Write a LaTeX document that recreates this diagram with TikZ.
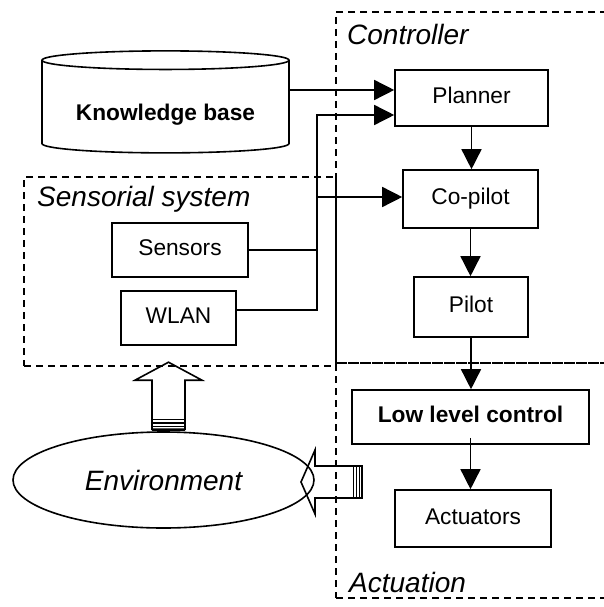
\documentclass[tikz,border=0pt]{standalone}
\usepackage{fontspec}
\setmainfont{Liberation Sans}
\usetikzlibrary{shapes.geometric,arrows.meta}

\begin{document}
\begin{tikzpicture}[
	x=1pt,y=-1pt,
	font=\fontsize{22.7}{26}\selectfont,
	block/.style={rectangle,draw,line width=1.6pt,inner sep=0pt,text height=16pt,text depth=5pt},
	region/.style={rectangle,draw,line width=1.3pt,dash pattern=on 7pt off 5pt,inner sep=0pt},
	regionlabel/.style={anchor=base west,inner sep=0pt,font=\fontsize{28}{32}\selectfont\itshape},
	link/.style={line width=1.5pt},
	flow/.style={link,-{Triangle[length=20pt,width=20pt]}},
	hollow/.style={draw,line width=1.6pt,line join=miter},
	stripes/.style={line width=1.5pt}
]
	\useasboundingbox (0,0) rectangle (604,607);
	% dashed regions
	\node[region,minimum width=312pt,minimum height=189pt] (sens) at (180,271.5) {};
	\node[region,minimum width=284pt,minimum height=351pt] (ctrl) at (478,187.5) {};
	\node[region,minimum width=284pt,minimum height=235pt] (actn) at (478,480.5) {};
	\node[regionlabel] (senslbl) at (37,206) {Sensorial system};
	\node[regionlabel] (ctrllbl) at (347,45) {Controller};
	\node[regionlabel] (actnlbl) at (349,592) {Actuation};

	% blocks
	\node[cylinder,shape border rotate=90,draw,line width=1.6pt,minimum width=247pt,minimum height=102pt,aspect=0.1,font=\fontsize{22.7}{26}\selectfont\bfseries] (kb) at (165.5,108) {\raisebox{-7pt}[16pt][5pt]{Knowledge base}};
	\node[block,minimum width=153pt,minimum height=56pt] (planner) at (471.5,98) {Planner};
	\node[block,minimum width=135pt,minimum height=58pt] (copilot) at (470.5,199) {Co-pilot};
	\node[block,minimum width=114pt,minimum height=60pt] (pilot) at (471,307) {Pilot};
	\node[block,minimum width=237pt,minimum height=54pt,font=\fontsize{22.7}{26}\selectfont\bfseries] (llc) at (470.5,417) {Low level control};
	\node[block,minimum width=156pt,minimum height=57pt] (actuators) at (473,518.5) {Actuators};
	\node[block,minimum width=136pt,minimum height=54pt] (sensors) at (180,250) {Sensors};
	\node[block,minimum width=115pt,minimum height=54pt] (wlan) at (178.5,318) {WLAN};
	\node[ellipse,draw,line width=1.6pt,inner sep=0pt,minimum width=301pt,minimum height=96pt,font=\fontsize{28}{32}\selectfont\itshape] (env) at (163.5,480) {Environment};

	% connectors
	\coordinate (bus) at (317,197);
	\coordinate (p1) at ([yshift=8pt]planner.west);
	\coordinate (p2) at ([yshift=-17pt]planner.west);
	\draw[flow] (kb.east |- p1) -- (p1);
	\draw[flow] ([yshift=8pt]wlan.east) -| (p2 -| bus) -- (p2);
	\draw[link] (sensors.east) -- (sensors.east -| bus);
	\draw[flow] (bus) -- (copilot.west |- bus);
	\draw[flow] (planner.south) -- (planner.south |- copilot.north);
	\draw[flow] (copilot.south) -- (copilot.south |- pilot.north);
	\draw[flow] (pilot.south) -- (pilot.south |- llc.north);
	\draw[flow] ([yshift=7pt]llc.south) -- (llc.south |- actuators.north);

	% striped block arrows
	\draw[hollow] ([xshift=-11.5pt,yshift=2pt]env.north) -- ++(0,-49) -- ++(-17,0) -- ++(33.5,-18) -- ++(33.5,18) -- ++(-17,0) -- ++(0,49) -- cycle;
	\foreach \d in {1,4.5,8,11.5}
		\draw[stripes] ([xshift=-11.5pt,yshift=\d pt]env.north) -- ++(33,0);
	\draw[hollow] (362,466) -- (315,466) -- (315,450) -- (301,482) -- (315,514) -- (315,498) -- (362,498) -- cycle;
	\foreach \x in {353.5,356.5,359.5,362}
		\draw[stripes] (\x,466) -- (\x,498);
\end{tikzpicture}
\end{document}
